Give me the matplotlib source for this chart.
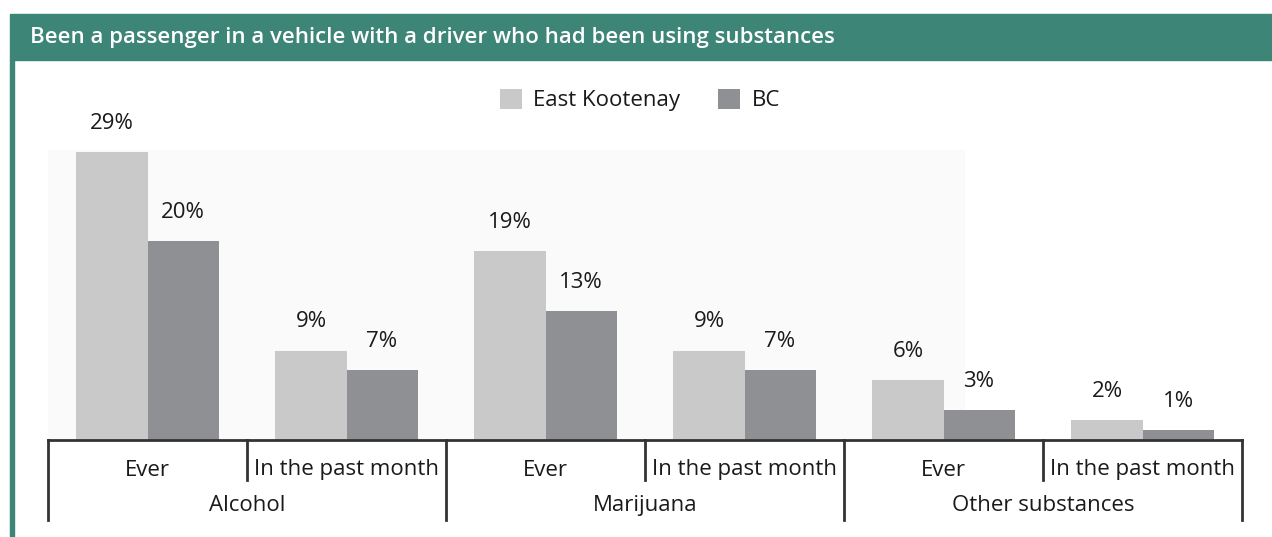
import numpy as np
import matplotlib.pyplot as plt
from matplotlib.patches import Rectangle
from matplotlib.transforms import blended_transform_factory

plt.rcParams['font.family'] = ['Open Sans', 'DejaVu Sans']

# data
groups = ['Alcohol', 'Marijuana', 'Other substances']
periods = ['Ever', 'In the past month']
east_kootenay = [29, 9, 19, 9, 6, 2]
bc = [20, 7, 13, 7, 3, 1]
series_names = ['East Kootenay', 'BC']

ek_color = '#c9c9ca'
bc_color = '#8f9093'
green = '#3d8577'
txt = '#1a1a1a'

W, H = 1272, 537
fig = plt.figure(figsize=(W / 100, H / 100), dpi=100)

# header band and left border
fig.patches.append(Rectangle((10 / W, 1 - 60 / H), 1 - 10 / W, 46 / H,
                             transform=fig.transFigure, color=green, zorder=0))
fig.patches.append(Rectangle((10 / W, 0), 4 / W, 1 - 60 / H,
                             transform=fig.transFigure, color=green, zorder=0))
fig.text(30 / W, 1 - 38 / H,
         'Been a passenger in a vehicle with a driver who had been using substances',
         color='white', fontsize=16, fontweight='semibold', va='center', ha='left')

# axes: baseline at y=440 px, top at y=140 px
ax = fig.add_axes([48 / W, 1 - 440 / H, (1242 - 48) / W, 300 / H])
ax.set_xlim(0, 6)
ax.set_ylim(0, 300 / 9.93)
ax.axis('off')

ax.add_patch(Rectangle((0, 0), 4.61, 29.2, color='#fafafa', zorder=0, lw=0))

n = len(east_kootenay)
x = np.arange(n) + 0.5
w = 0.357
b1 = ax.bar(x - w / 2, east_kootenay, w, color=ek_color, label=series_names[0], zorder=2)
b2 = ax.bar(x + w / 2, bc, w, color=bc_color, label=series_names[1], zorder=2)

for bars, vals in ((b1, east_kootenay), (b2, bc)):
    for r, v in zip(bars, vals):
        ax.text(r.get_x() + r.get_width() / 2, v + 2.9, f'{v}%',
                ha='center', va='center', fontsize=16, color=txt)

# baseline and separators
ax.plot([0, 6], [0, 0], color='#333333', lw=2, clip_on=False, zorder=3)
tr = blended_transform_factory(ax.transData, ax.transAxes)
for i in range(n + 1):
    bottom = -0.267 if i % 2 == 0 else -0.133
    ax.plot([i, i], [0, bottom], color='#333333', lw=2, transform=tr, clip_on=False)

labels = periods * len(groups)
for i, lab in enumerate(labels):
    ax.text(x[i], -0.10, lab, transform=tr, ha='center', va='center',
            fontsize=16, color=txt)
for g, name in enumerate(groups):
    ax.text(2 * g + 1, -0.217, name, transform=tr, ha='center', va='center',
            fontsize=16, color=txt)

ax.legend(loc='center', bbox_to_anchor=(640 / W, 1 - 100 / H), bbox_transform=fig.transFigure,
          ncol=2, frameon=False, fontsize=16, handlelength=1.0, handleheight=1.0,
          columnspacing=1.7, handletextpad=0.5, labelcolor=txt)

fig.savefig('out.png', dpi=100, facecolor='white')
